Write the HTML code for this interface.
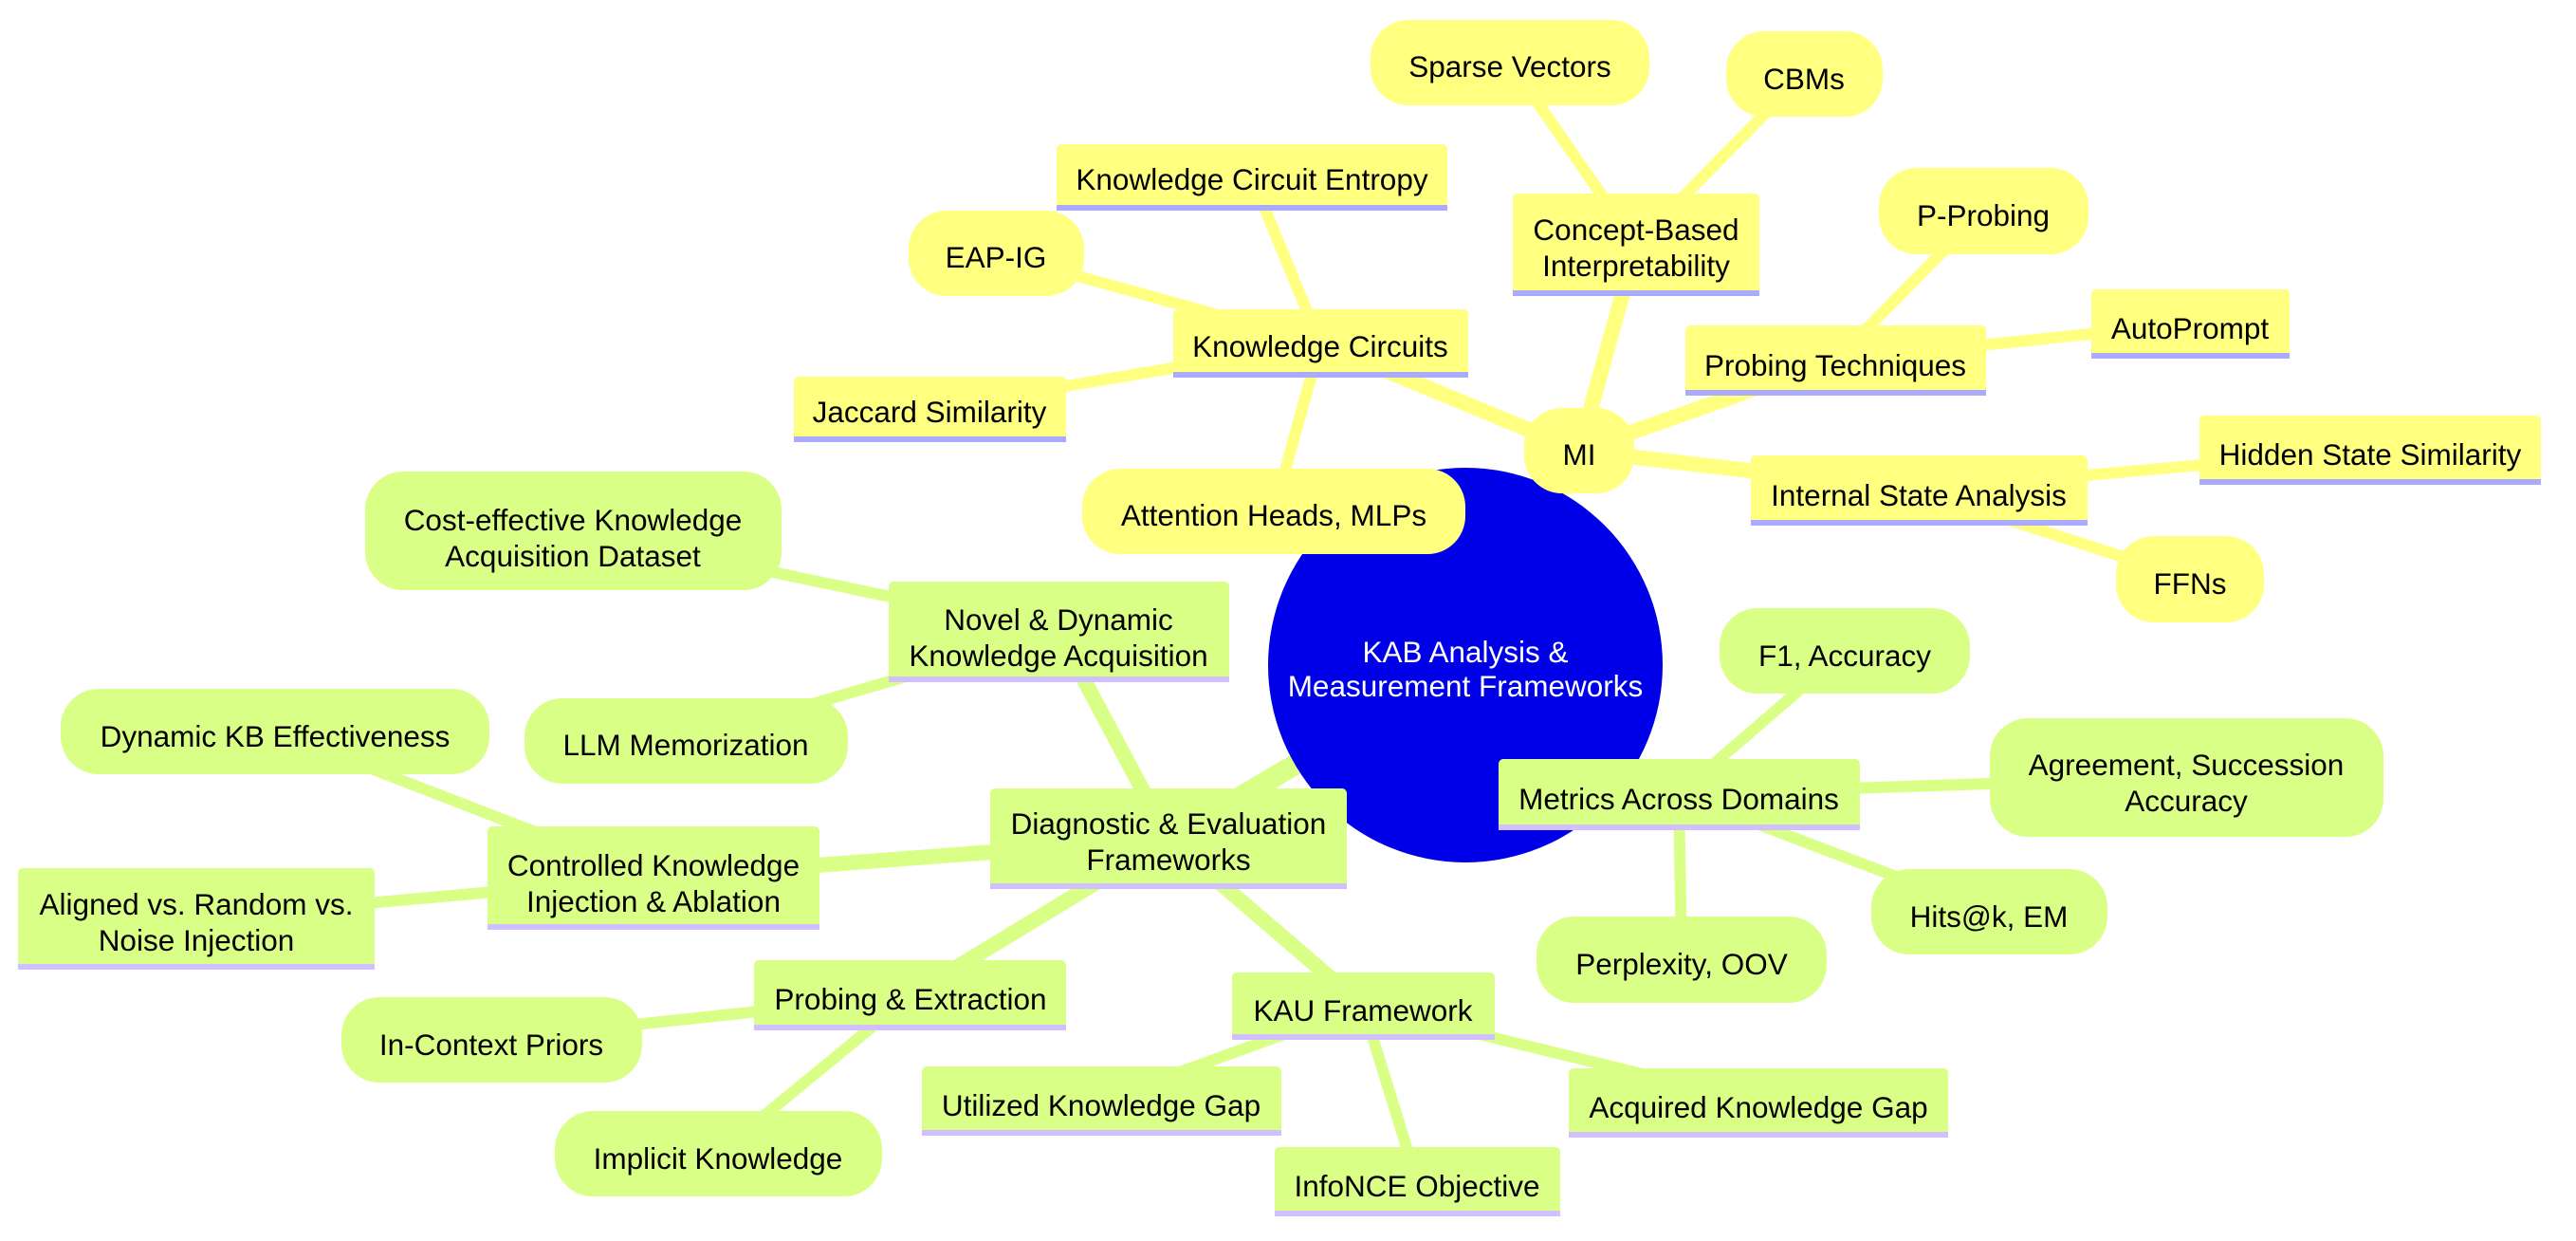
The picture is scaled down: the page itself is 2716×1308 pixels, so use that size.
<!DOCTYPE html>
<html><head><meta charset="utf-8"><style>
html,body{margin:0;padding:0;background:#fff;width:2716px;height:1308px;overflow:hidden}
svg text{font-family:"Liberation Sans",sans-serif;font-size:31.5px;fill:#000;text-anchor:middle;dominant-baseline:central;transform:translateY(3px)}
</style></head><body>
<svg width="2716" height="1308" viewBox="0 0 2716 1308" xmlns="http://www.w3.org/2000/svg">
<g stroke-linecap="round" fill="none">
<g stroke="#ffff80">
<line x1="1545" y1="701" x2="1665" y2="475" stroke-width="22"/>
<line x1="1665" y1="475" x2="1392" y2="362" stroke-width="16"/>
<line x1="1665" y1="475" x2="1725" y2="258" stroke-width="16"/>
<line x1="1665" y1="475" x2="1935" y2="380" stroke-width="16"/>
<line x1="1665" y1="475" x2="2023" y2="517" stroke-width="16"/>
<line x1="1392" y1="362" x2="1320" y2="187" stroke-width="12"/>
<line x1="1392" y1="362" x2="1050" y2="267" stroke-width="12"/>
<line x1="1392" y1="362" x2="980" y2="431" stroke-width="12"/>
<line x1="1392" y1="362" x2="1343" y2="539" stroke-width="12"/>
<line x1="1725" y1="258" x2="1592" y2="66" stroke-width="12"/>
<line x1="1725" y1="258" x2="1902" y2="78" stroke-width="12"/>
<line x1="1935" y1="380" x2="2091" y2="222" stroke-width="12"/>
<line x1="1935" y1="380" x2="2309" y2="341" stroke-width="12"/>
<line x1="2023" y1="517" x2="2499" y2="474" stroke-width="12"/>
<line x1="2023" y1="517" x2="2309" y2="610" stroke-width="12"/>
</g>
<g stroke="#d9ff87">
<line x1="1545" y1="701" x2="1232" y2="884" stroke-width="22"/>
<line x1="1232" y1="884" x2="1116" y2="666" stroke-width="16"/>
<line x1="1232" y1="884" x2="689" y2="925" stroke-width="16"/>
<line x1="1232" y1="884" x2="960" y2="1049" stroke-width="16"/>
<line x1="1232" y1="884" x2="1437" y2="1060" stroke-width="16"/>
<line x1="1545" y1="701" x2="1770" y2="837" stroke-width="22"/>
<line x1="1116" y1="666" x2="604" y2="559" stroke-width="12"/>
<line x1="1116" y1="666" x2="723" y2="781" stroke-width="12"/>
<line x1="689" y1="925" x2="290" y2="771" stroke-width="12"/>
<line x1="689" y1="925" x2="207" y2="968" stroke-width="12"/>
<line x1="960" y1="1049" x2="518" y2="1096" stroke-width="12"/>
<line x1="960" y1="1049" x2="757" y2="1216" stroke-width="12"/>
<line x1="1437" y1="1060" x2="1161" y2="1160" stroke-width="12"/>
<line x1="1437" y1="1060" x2="1494" y2="1245" stroke-width="12"/>
<line x1="1437" y1="1060" x2="1854" y2="1162" stroke-width="12"/>
<line x1="1770" y1="837" x2="1945" y2="686" stroke-width="12"/>
<line x1="1770" y1="837" x2="2305" y2="819" stroke-width="12"/>
<line x1="1770" y1="837" x2="2097" y2="961" stroke-width="12"/>
<line x1="1770" y1="837" x2="1773" y2="1011" stroke-width="12"/>
</g>
</g>
<circle cx="1545" cy="701" r="208" fill="#0000e8"/>
<text x="1545" y="684" style="fill:#fff">KAB Analysis &amp;</text>
<text x="1545" y="720" style="fill:#fff">Measurement Frameworks</text>

<g fill="#ffff80">
<rect x="1607" y="430" width="116" height="90" rx="40"/>
<rect x="958" y="222" width="185" height="90" rx="40"/>
<rect x="1141" y="494" width="404" height="90" rx="40"/>
<rect x="1445" y="21" width="294" height="90" rx="40"/>
<rect x="1820" y="33" width="165" height="90" rx="40"/>
<rect x="1981" y="177" width="221" height="91" rx="40"/>
<rect x="2231" y="565" width="156" height="91" rx="40"/>
</g>
<g>
<rect x="1237" y="326" width="311" height="72" rx="5" fill="#ffff80"/><rect x="1237" y="392" width="311" height="6" fill="#aaaaff"/>
<rect x="1114" y="152" width="412" height="70" rx="5" fill="#ffff80"/><rect x="1114" y="216" width="412" height="6" fill="#aaaaff"/>
<rect x="837" y="397" width="287" height="69" rx="5" fill="#ffff80"/><rect x="837" y="460" width="287" height="6" fill="#aaaaff"/>
<rect x="1595" y="204" width="260" height="108" rx="5" fill="#ffff80"/><rect x="1595" y="306" width="260" height="6" fill="#aaaaff"/>
<rect x="1777" y="343" width="317" height="74" rx="5" fill="#ffff80"/><rect x="1777" y="411" width="317" height="6" fill="#aaaaff"/>
<rect x="2205" y="305" width="209" height="73" rx="5" fill="#ffff80"/><rect x="2205" y="372" width="209" height="6" fill="#aaaaff"/>
<rect x="1846" y="480" width="355" height="74" rx="5" fill="#ffff80"/><rect x="1846" y="548" width="355" height="6" fill="#aaaaff"/>
<rect x="2319" y="438" width="360" height="73" rx="5" fill="#ffff80"/><rect x="2319" y="505" width="360" height="6" fill="#aaaaff"/>
</g>
<g fill="#d9ff87">
<rect x="385" y="497" width="439" height="125" rx="40"/>
<rect x="553" y="736" width="341" height="90" rx="40"/>
<rect x="64" y="726" width="452" height="90" rx="40"/>
<rect x="360" y="1051" width="317" height="90" rx="40"/>
<rect x="585" y="1171" width="345" height="90" rx="40"/>
<rect x="1813" y="641" width="264" height="90" rx="40"/>
<rect x="2098" y="757" width="415" height="125" rx="40"/>
<rect x="1973" y="916" width="249" height="90" rx="40"/>
<rect x="1620" y="966" width="306" height="91" rx="40"/>
</g>
<g>
<rect x="1044" y="831" width="376" height="106" rx="5" fill="#d9ff87"/><rect x="1044" y="931" width="376" height="6" fill="#d0c0ff"/>
<rect x="937" y="613" width="359" height="106" rx="5" fill="#d9ff87"/><rect x="937" y="713" width="359" height="6" fill="#d0c0ff"/>
<rect x="514" y="871" width="350" height="109" rx="5" fill="#d9ff87"/><rect x="514" y="974" width="350" height="6" fill="#d0c0ff"/>
<rect x="19" y="915" width="376" height="107" rx="5" fill="#d9ff87"/><rect x="19" y="1016" width="376" height="6" fill="#d0c0ff"/>
<rect x="795" y="1012" width="329" height="74" rx="5" fill="#d9ff87"/><rect x="795" y="1080" width="329" height="6" fill="#d0c0ff"/>
<rect x="1299" y="1025" width="277" height="71" rx="5" fill="#d9ff87"/><rect x="1299" y="1090" width="277" height="6" fill="#d0c0ff"/>
<rect x="972" y="1124" width="379" height="73" rx="5" fill="#d9ff87"/><rect x="972" y="1191" width="379" height="6" fill="#d0c0ff"/>
<rect x="1344" y="1209" width="301" height="73" rx="5" fill="#d9ff87"/><rect x="1344" y="1276" width="301" height="6" fill="#d0c0ff"/>
<rect x="1654" y="1126" width="400" height="73" rx="5" fill="#d9ff87"/><rect x="1654" y="1193" width="400" height="6" fill="#d0c0ff"/>
<rect x="1580" y="800" width="381" height="75" rx="5" fill="#d9ff87"/><rect x="1580" y="869" width="381" height="6" fill="#d0c0ff"/>
</g>

<text x="1665" y="476">MI</text>
<text x="1392" y="362">Knowledge Circuits</text>
<text x="1320" y="186">Knowledge Circuit Entropy</text>
<text x="1050" y="268">EAP-IG</text>
<text x="980" y="431">Jaccard Similarity</text>
<text x="1343" y="540">Attention Heads, MLPs</text>
<text x="1725" y="239">Concept-Based</text>
<text x="1725" y="277">Interpretability</text>
<text x="1592" y="67">Sparse Vectors</text>
<text x="1902" y="80">CBMs</text>
<text x="1935" y="382">Probing Techniques</text>
<text x="2091" y="224">P-Probing</text>
<text x="2309" y="343">AutoPrompt</text>
<text x="2023" y="519">Internal State Analysis</text>
<text x="2499" y="476">Hidden State Similarity</text>
<text x="2309" y="612">FFNs</text>

<text x="1232" y="865">Diagnostic &amp; Evaluation</text>
<text x="1232" y="903">Frameworks</text>
<text x="1116" y="650">Novel &amp; Dynamic</text>
<text x="1116" y="688">Knowledge Acquisition</text>
<text x="604" y="545">Cost-effective Knowledge</text>
<text x="604" y="583">Acquisition Dataset</text>
<text x="723" y="782">LLM Memorization</text>
<text x="689" y="909">Controlled Knowledge</text>
<text x="689" y="947">Injection &amp; Ablation</text>
<text x="290" y="773">Dynamic KB Effectiveness</text>
<text x="207" y="950">Aligned vs. Random vs.</text>
<text x="207" y="988">Noise Injection</text>
<text x="960" y="1050">Probing &amp; Extraction</text>
<text x="518" y="1098">In-Context Priors</text>
<text x="757" y="1218">Implicit Knowledge</text>
<text x="1437" y="1062">KAU Framework</text>
<text x="1161" y="1162">Utilized Knowledge Gap</text>
<text x="1494" y="1247">InfoNCE Objective</text>
<text x="1854" y="1164">Acquired Knowledge Gap</text>
<text x="1770" y="839">Metrics Across Domains</text>
<text x="1945" y="688">F1, Accuracy</text>
<text x="2305" y="803">Agreement, Succession</text>
<text x="2305" y="841">Accuracy</text>
<text x="2097" y="963">Hits@k, EM</text>
<text x="1773" y="1013">Perplexity, OOV</text>
</svg>
</body></html>
